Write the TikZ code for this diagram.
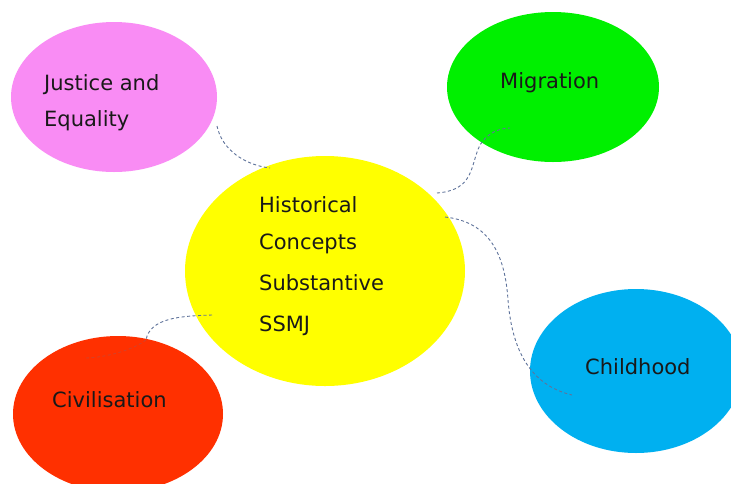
\documentclass[tikz,border=0pt]{standalone}
\usepackage{fontspec}
\setmainfont{DejaVu Sans}
\definecolor{linkc}{RGB}{95,115,155}
\begin{document}
\begin{tikzpicture}[x=1pt,y=-1pt,
  lbl/.style={anchor=base west,inner sep=0pt,font=\fontsize{21}{24}\selectfont,text=black!90},
  link/.style={draw=linkc,dash pattern=on 3pt off 2.5pt,line width=0.9pt}]
\useasboundingbox (0,0) rectangle (731,483);
\fill[white] (0,0) rectangle (731,483);
\fill[fill={rgb,255:red,249;green,140;blue,244}] (114,97) ellipse [x radius=103, y radius=75];
\coordinate (pk) at (114,97);
\fill[fill={rgb,255:red,0;green,240;blue,0}] (553,87) ellipse [x radius=106, y radius=75];
\coordinate (gr) at (553,87);
\fill[fill={rgb,255:red,255;green,255;blue,0}] (325,271) ellipse [x radius=140, y radius=115];
\coordinate (ye) at (325,271);
\fill[fill={rgb,255:red,0;green,176;blue,240}] (636,371) ellipse [x radius=106, y radius=82];
\coordinate (bl) at (636,371);
\fill[fill={rgb,255:red,255;green,48;blue,0}] (118,414) ellipse [x radius=105, y radius=78];
\coordinate (rd) at (118,414);
% connectors
\coordinate (c1a) at (217,126); \coordinate (c1b) at (270,168);
\draw[link] (c1a) .. controls (222,150) and (245,165) .. (c1b);
\coordinate (c2a) at (437,193); \coordinate (c2b) at (510,128);
\draw[link] (c2a) .. controls (475,190) and (470,165) .. (480,145) .. controls (487,133) and (500,128) .. (c2b);
\coordinate (c3a) at (445,217); \coordinate (c3b) at (572,395);
\draw[link] (c3a) .. controls (490,222) and (505,255) .. (508,300) .. controls (512,350) and (530,385) .. (c3b);
\coordinate (c4a) at (212,315); \coordinate (c4b) at (146,340);
\draw[link] (c4a) .. controls (180,316) and (150,318) .. (c4b);
\draw[link,draw opacity=0.25] (c4b) .. controls (130,352) and (100,358) .. (85,358);
% labels
\node[lbl] (t1) at (44,90) {Justice and};
\node[lbl] (t2) at (44,126) {Equality};
\node[lbl] (t3) at (500,88) {Migration};
\node[lbl] (t4) at (259,212) {Historical};
\node[lbl] (t5) at (259,249) {Concepts};
\node[lbl] (t6) at (259,290) {Substantive};
\node[lbl] (t7) at (259,331) {SSMJ};
\node[lbl] (t8) at (585,374) {Childhood};
\node[lbl] (t9) at (52,407) {Civilisation};
\end{tikzpicture}
\end{document}
